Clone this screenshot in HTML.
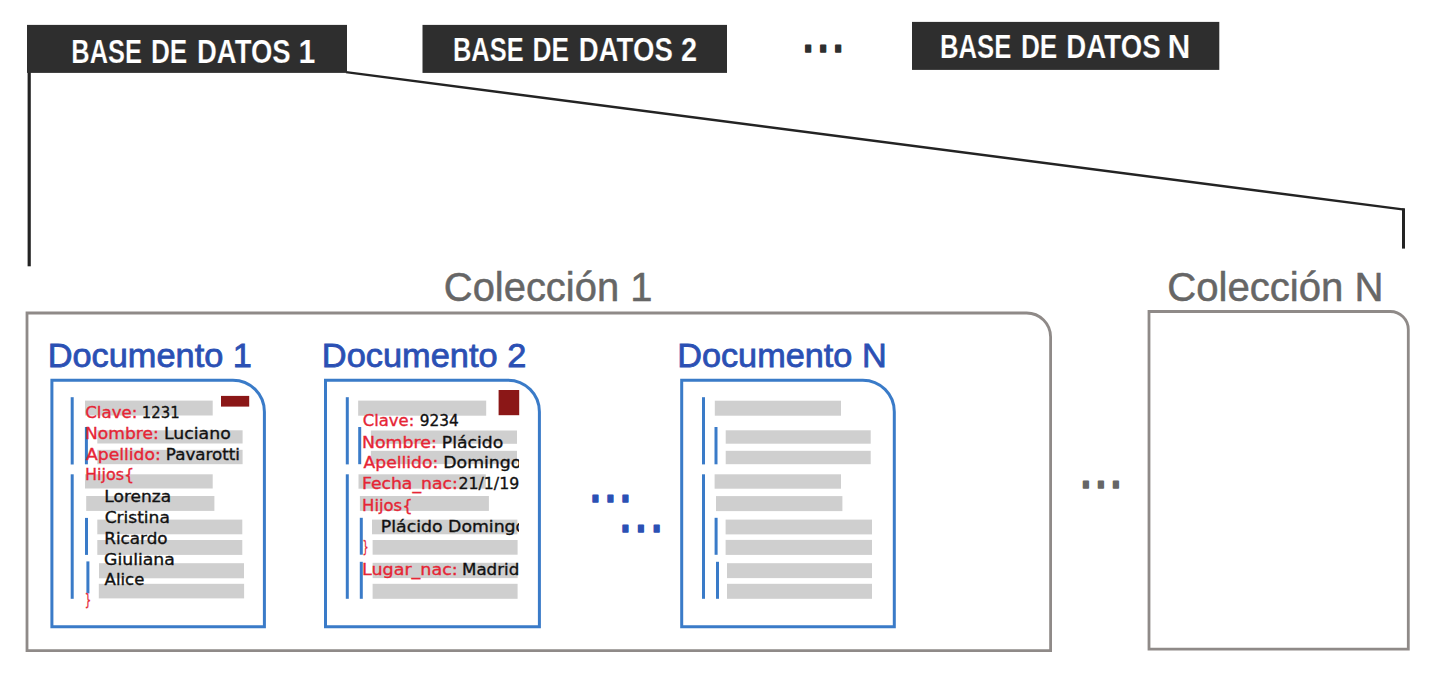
<!DOCTYPE html>
<html lang="es">
<head>
<meta charset="utf-8">
<title>Bases de datos, colecciones y documentos</title>
<style>
html,body{margin:0;padding:0;background:#fff;}
body{width:1443px;height:681px;overflow:hidden;font-family:"Liberation Sans",sans-serif;}
svg{display:block;}
</style>
</head>
<body>
<svg width="1443" height="681" viewBox="0 0 1443 681">
<rect width="1443" height="681" fill="#ffffff"/>

<g stroke="#232323" fill="none" stroke-linecap="butt">
<line x1="29.2" y1="70" x2="29.2" y2="266.3" stroke-width="3.2"/>
<line x1="346" y1="72.2" x2="1404.5" y2="209.7" stroke-width="2.3"/>
<line x1="1403.5" y1="208.4" x2="1403.5" y2="248.6" stroke-width="3"/>
</g>
<g fill="#2e2e2e">
<rect x="27" y="24.9" width="320" height="48"/>
<rect x="422.5" y="24.9" width="304.5" height="48"/>
<rect x="912" y="21.9" width="307.3" height="48"/>
</g>
<text y="62.5" font-family='"Liberation Sans", sans-serif' font-size="33.5" fill="#ffffff" font-weight="bold" stroke="#2e2e2e" stroke-width="0.22"><tspan x="71.32" textLength="70.53" lengthAdjust="spacingAndGlyphs">BASE</tspan> <tspan x="150.95" textLength="36.38" lengthAdjust="spacingAndGlyphs">DE</tspan> <tspan x="197.01" textLength="93.69" lengthAdjust="spacingAndGlyphs">DATOS</tspan> <tspan x="298.61" textLength="16.85" lengthAdjust="spacingAndGlyphs">1</tspan></text>
<text y="61.0" font-family='"Liberation Sans", sans-serif' font-size="33.5" fill="#ffffff" font-weight="bold" stroke="#2e2e2e" stroke-width="0.22"><tspan x="452.96" textLength="70.63" lengthAdjust="spacingAndGlyphs">BASE</tspan> <tspan x="532.59" textLength="36.64" lengthAdjust="spacingAndGlyphs">DE</tspan> <tspan x="578.86" textLength="93.94" lengthAdjust="spacingAndGlyphs">DATOS</tspan> <tspan x="680.89" textLength="16.15" lengthAdjust="spacingAndGlyphs">2</tspan></text>
<text y="57.9" font-family='"Liberation Sans", sans-serif' font-size="33.5" fill="#ffffff" font-weight="bold" stroke="#2e2e2e" stroke-width="0.22"><tspan x="939.92" textLength="71.48" lengthAdjust="spacingAndGlyphs">BASE</tspan> <tspan x="1020.95" textLength="36.38" lengthAdjust="spacingAndGlyphs">DE</tspan> <tspan x="1066.36" textLength="94.34" lengthAdjust="spacingAndGlyphs">DATOS</tspan> <tspan x="1167.56" textLength="22.88" lengthAdjust="spacingAndGlyphs">N</tspan></text>
<text transform="translate(803.3,51.8) scale(0.80,1)" font-family='"Liberation Sans", sans-serif' font-weight="bold" font-size="44" letter-spacing="6.5" fill="#2e2e2e" stroke="#2e2e2e" stroke-width="1.6" stroke-linejoin="round">...</text>
<path d="M27,313 H1026.6 A24,24 0 0 1 1050.6,337 V650.6 H27 Z" fill="none" stroke="#8f8a88" stroke-width="2.8" stroke-linejoin="miter"/>
<path d="M1149,311.5 H1390.3 A18,18 0 0 1 1408.3,329.5 V649.2 H1149 Z" fill="none" stroke="#8f8a88" stroke-width="2.8" stroke-linejoin="miter"/>
<text x="443.81" y="300.9" font-family='"Liberation Sans", sans-serif' font-size="40" fill="#666666" stroke="#666666" stroke-width="0.5" textLength="208.62" lengthAdjust="spacingAndGlyphs">Colección 1</text>
<text x="1167.2" y="301.1" font-family='"Liberation Sans", sans-serif' font-size="40" fill="#666666" stroke="#666666" stroke-width="0.5" textLength="216.4" lengthAdjust="spacingAndGlyphs">Colección N</text>
<text transform="translate(1081.0,487.8) scale(0.80,1)" font-family='"Liberation Sans", sans-serif' font-weight="bold" font-size="44" letter-spacing="6.5" fill="#666666" stroke="#666666" stroke-width="1.6" stroke-linejoin="round">...</text>
<text x="47.72" y="366.6" font-family='"Liberation Sans", sans-serif' font-size="34" fill="#2b50b4" stroke="#2b50b4" stroke-width="0.8" textLength="204.22" lengthAdjust="spacingAndGlyphs">Documento 1</text>
<path d="M51.9,380.15 H232.9 A31.5,31.5 0 0 1 264.4,411.65 V626.85 H51.9 Z" fill="none" stroke="#3a7bc8" stroke-width="3" stroke-linejoin="miter"/>
<g fill="#cfcfcf">
<rect x="85.00" y="400.6" width="127.70" height="14.90"/>
<rect x="97.30" y="430.3" width="145.30" height="13.20"/>
<rect x="97.30" y="449.8" width="145.30" height="14.40"/>
<rect x="85.00" y="474.3" width="127.70" height="14.20"/>
<rect x="86.20" y="496.0" width="128.20" height="14.90"/>
<rect x="97.30" y="519.6" width="145.00" height="14.70"/>
<rect x="97.30" y="540.0" width="145.00" height="14.90"/>
<rect x="99.00" y="563.2" width="145.00" height="15.10"/>
<rect x="98.80" y="583.8" width="145.30" height="14.60"/>
</g>
<g stroke="#3a7bc8" stroke-width="3" fill="none">
<line x1="72.2" y1="397.2" x2="72.2" y2="464.5"/>
<line x1="72.2" y1="474.3" x2="72.2" y2="598.8"/>
<line x1="86.4" y1="427" x2="86.4" y2="464.3"/>
<line x1="86.5" y1="517.9" x2="86.5" y2="554.9"/>
<line x1="87.9" y1="561.4" x2="87.9" y2="593.4"/>
</g>
<rect x="221" y="395.9" width="28.2" height="10.7" fill="#8b1717"/>
<text x="85.27" y="417.85" font-family='"DejaVu Sans", "Liberation Sans", sans-serif' font-size="16.2" fill="#e62535" stroke="#e62535" stroke-width="0.35" textLength="52.03" lengthAdjust="spacingAndGlyphs">Clave:</text>
<text x="141.8" y="417.85" font-family='"DejaVu Sans", "Liberation Sans", sans-serif' font-size="16.2" fill="#111111" stroke="#111111" stroke-width="0.35" textLength="37.83" lengthAdjust="spacingAndGlyphs">1231</text>
<text x="85.0" y="438.65" font-family='"DejaVu Sans", "Liberation Sans", sans-serif' font-size="16.2" fill="#e62535" stroke="#e62535" stroke-width="0.35" textLength="73.8" lengthAdjust="spacingAndGlyphs">Nombre:</text>
<text x="164.03" y="438.65" font-family='"DejaVu Sans", "Liberation Sans", sans-serif' font-size="16.2" fill="#111111" stroke="#111111" stroke-width="0.35" textLength="66.7" lengthAdjust="spacingAndGlyphs">Luciano</text>
<text x="86.03" y="459.65" font-family='"DejaVu Sans", "Liberation Sans", sans-serif' font-size="16.2" fill="#e62535" stroke="#e62535" stroke-width="0.35" textLength="74.74" lengthAdjust="spacingAndGlyphs">Apellido:</text>
<text x="165.86" y="459.65" font-family='"DejaVu Sans", "Liberation Sans", sans-serif' font-size="16.2" fill="#111111" stroke="#111111" stroke-width="0.35" textLength="74.13" lengthAdjust="spacingAndGlyphs">Pavarotti</text>
<text x="84.99" y="480.15" font-family='"DejaVu Sans", "Liberation Sans", sans-serif' font-size="16.2" fill="#e62535" stroke="#e62535" stroke-width="0.35" textLength="49.28" lengthAdjust="spacingAndGlyphs">Hijos{</text>
<text x="104.36" y="501.65" font-family='"DejaVu Sans", "Liberation Sans", sans-serif' font-size="16.2" fill="#111111" stroke="#111111" stroke-width="0.35" textLength="66.77" lengthAdjust="spacingAndGlyphs">Lorenza</text>
<text x="104.67" y="522.75" font-family='"DejaVu Sans", "Liberation Sans", sans-serif' font-size="16.2" fill="#111111" stroke="#111111" stroke-width="0.35" textLength="65.21" lengthAdjust="spacingAndGlyphs">Cristina</text>
<text x="104.26" y="543.65" font-family='"DejaVu Sans", "Liberation Sans", sans-serif' font-size="16.2" fill="#111111" stroke="#111111" stroke-width="0.35" textLength="63.36" lengthAdjust="spacingAndGlyphs">Ricardo</text>
<text x="104.02" y="565.05" font-family='"DejaVu Sans", "Liberation Sans", sans-serif' font-size="16.2" fill="#111111" stroke="#111111" stroke-width="0.35" textLength="70.82" lengthAdjust="spacingAndGlyphs">Giuliana</text>
<text x="104.58" y="585.35" font-family='"DejaVu Sans", "Liberation Sans", sans-serif' font-size="16.2" fill="#111111" stroke="#111111" stroke-width="0.35" textLength="39.73" lengthAdjust="spacingAndGlyphs">Alice</text>
<text x="84.75" y="604.75" font-family='"DejaVu Sans", "Liberation Sans", sans-serif' font-size="16.2" fill="#e62535" stroke="#e62535" stroke-width="0.35" textLength="6.43" lengthAdjust="spacingAndGlyphs">}</text>
<text x="321.86" y="366.6" font-family='"Liberation Sans", sans-serif' font-size="34" fill="#2b50b4" stroke="#2b50b4" stroke-width="0.8" textLength="204.47" lengthAdjust="spacingAndGlyphs">Documento 2</text>
<path d="M325.5,380.15 H507.9 A31.5,31.5 0 0 1 539.4,411.65 V626.85 H325.5 Z" fill="none" stroke="#3a7bc8" stroke-width="3" stroke-linejoin="miter"/>
<g fill="#cfcfcf">
<rect x="358.15" y="400.6" width="128.05" height="15.10"/>
<rect x="370.85" y="430.5" width="146.15" height="13.30"/>
<rect x="370.85" y="450.8" width="146.15" height="13.30"/>
<rect x="358.50" y="474.3" width="127.30" height="14.40"/>
<rect x="359.90" y="496.0" width="129.00" height="14.90"/>
<rect x="372.00" y="519.6" width="145.40" height="14.70"/>
<rect x="372.60" y="540.0" width="145.00" height="14.70"/>
<rect x="372.60" y="562.8" width="145.00" height="15.30"/>
<rect x="372.60" y="583.8" width="145.00" height="15.00"/>
</g>
<g stroke="#3a7bc8" stroke-width="3" fill="none">
<line x1="347.3" y1="397.2" x2="347.3" y2="464.4"/>
<line x1="347.3" y1="474.3" x2="347.3" y2="598.8"/>
<line x1="359.7" y1="427" x2="359.7" y2="464.2"/>
<line x1="361.3" y1="517.8" x2="361.3" y2="554.7"/>
<line x1="361.3" y1="561.8" x2="361.3" y2="598.8"/>
</g>
<rect x="498.6" y="390" width="20.6" height="25.2" fill="#8b1717"/>
<clipPath id="c2"><rect x="330" y="385" width="188.9" height="240"/></clipPath>
<g clip-path="url(#c2)">
<text x="362.72" y="426.35" font-family='"DejaVu Sans", "Liberation Sans", sans-serif' font-size="16.2" fill="#e62535" stroke="#e62535" stroke-width="0.35" textLength="51.52" lengthAdjust="spacingAndGlyphs">Clave:</text>
<text x="419.74" y="426.35" font-family='"DejaVu Sans", "Liberation Sans", sans-serif' font-size="16.2" fill="#111111" stroke="#111111" stroke-width="0.35" textLength="39.08" lengthAdjust="spacingAndGlyphs">9234</text>
<text x="362.04" y="447.55" font-family='"DejaVu Sans", "Liberation Sans", sans-serif' font-size="16.2" fill="#e62535" stroke="#e62535" stroke-width="0.35" textLength="74.76" lengthAdjust="spacingAndGlyphs">Nombre:</text>
<text x="441.88" y="447.55" font-family='"DejaVu Sans", "Liberation Sans", sans-serif' font-size="16.2" fill="#111111" stroke="#111111" stroke-width="0.35" textLength="61.4" lengthAdjust="spacingAndGlyphs">Plácido</text>
<text x="363.63" y="468.35" font-family='"DejaVu Sans", "Liberation Sans", sans-serif' font-size="16.2" fill="#e62535" stroke="#e62535" stroke-width="0.35" textLength="74.54" lengthAdjust="spacingAndGlyphs">Apellido:</text>
<text x="443.32" y="468.35" font-family='"DejaVu Sans", "Liberation Sans", sans-serif' font-size="16.2" fill="#111111" stroke="#111111" stroke-width="0.35" textLength="78.05" lengthAdjust="spacingAndGlyphs">Domingo</text>
<text x="361.96" y="489.45" font-family='"DejaVu Sans", "Liberation Sans", sans-serif' font-size="16.2" fill="#e62535" stroke="#e62535" stroke-width="0.35" textLength="95.79" lengthAdjust="spacingAndGlyphs">Fecha_nac:</text>
<text x="458.47" y="489.45" font-family='"DejaVu Sans", "Liberation Sans", sans-serif' font-size="16.2" fill="#111111" stroke="#111111" stroke-width="0.35" textLength="80.75" lengthAdjust="spacingAndGlyphs">21/1/1941</text>
<text x="362.04" y="510.55" font-family='"DejaVu Sans", "Liberation Sans", sans-serif' font-size="16.2" fill="#e62535" stroke="#e62535" stroke-width="0.35" textLength="50.64" lengthAdjust="spacingAndGlyphs">Hijos{</text>
<text x="380.77" y="531.65" font-family='"DejaVu Sans", "Liberation Sans", sans-serif' font-size="16.2" fill="#111111" stroke="#111111" stroke-width="0.35" textLength="145.45" lengthAdjust="spacingAndGlyphs">Plácido Domingo</text>
<text x="362.43" y="552.35" font-family='"DejaVu Sans", "Liberation Sans", sans-serif' font-size="16.2" fill="#e62535" stroke="#e62535" stroke-width="0.35" textLength="6.04" lengthAdjust="spacingAndGlyphs">}</text>
<text x="362.0" y="574.75" font-family='"DejaVu Sans", "Liberation Sans", sans-serif' font-size="16.2" fill="#e62535" stroke="#e62535" stroke-width="0.35" textLength="95.74" lengthAdjust="spacingAndGlyphs">Lugar_nac:</text>
<text x="462.01" y="574.75" font-family='"DejaVu Sans", "Liberation Sans", sans-serif' font-size="16.2" fill="#111111" stroke="#111111" stroke-width="0.35" textLength="57.24" lengthAdjust="spacingAndGlyphs">Madrid</text>
</g>
<text x="677.2" y="366.6" font-family='"Liberation Sans", sans-serif' font-size="34" fill="#2b50b4" stroke="#2b50b4" stroke-width="0.8" textLength="209.44" lengthAdjust="spacingAndGlyphs">Documento N</text>
<path d="M681.7,380.15 H862.8 A31.5,31.5 0 0 1 894.3,411.65 V626.85 H681.7 Z" fill="none" stroke="#3a7bc8" stroke-width="3" stroke-linejoin="miter"/>
<g fill="#cfcfcf">
<rect x="714.80" y="400.7" width="126.20" height="15.00"/>
<rect x="725.70" y="430.3" width="145.00" height="13.40"/>
<rect x="725.70" y="450.8" width="145.00" height="13.40"/>
<rect x="714.60" y="474.3" width="126.40" height="14.40"/>
<rect x="716.00" y="496.1" width="126.40" height="15.00"/>
<rect x="725.60" y="519.6" width="146.40" height="14.80"/>
<rect x="725.60" y="539.9" width="146.40" height="15.00"/>
<rect x="727.00" y="563.2" width="145.00" height="14.90"/>
<rect x="727.00" y="583.8" width="145.00" height="15.00"/>
</g>
<g stroke="#3a7bc8" stroke-width="3" fill="none">
<line x1="703.5" y1="397.2" x2="703.5" y2="464.4"/>
<line x1="703.5" y1="474.3" x2="703.5" y2="598.8"/>
<line x1="716.0" y1="427" x2="716.0" y2="464.3"/>
<line x1="716.1" y1="517.8" x2="716.1" y2="554.8"/>
<line x1="717.5" y1="561.8" x2="717.5" y2="598.8"/>
</g>
<text transform="translate(590.6,501.9) scale(0.80,1)" font-family='"Liberation Sans", sans-serif' font-weight="bold" font-size="44" letter-spacing="6.5" fill="#2b50b4" stroke="#2b50b4" stroke-width="1.6" stroke-linejoin="round">...</text>
<text transform="translate(620.5,531.6) scale(0.80,1)" font-family='"Liberation Sans", sans-serif' font-weight="bold" font-size="44" letter-spacing="7.3" fill="#2b50b4" stroke="#2b50b4" stroke-width="1.6" stroke-linejoin="round">...</text>
</svg>
</body>
</html>
